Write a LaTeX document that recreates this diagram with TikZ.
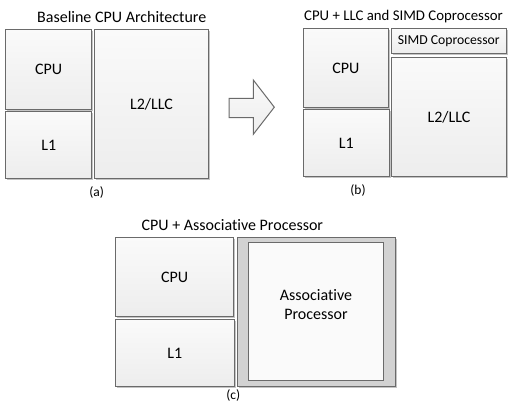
\documentclass[tikz,border=0pt]{standalone}
\usepackage{fontspec}
\setmainfont{Carlito}[Ligatures=NoCommon]
\usetikzlibrary{shadows}
\definecolor{edge}{HTML}{6A6A6A}
\definecolor{shadowc}{HTML}{C4C4C4}
\definecolor{topc}{HTML}{FAFAFA}
\definecolor{botc}{HTML}{EDEDED}
\definecolor{apgray}{HTML}{D2D2D2}
\tikzset{
  blk/.style={draw=edge, line width=1.1pt, top color=topc, bottom color=botc,
    anchor=north west, inner sep=0pt, font=\fontsize{16}{19}\selectfont,
    drop shadow={shadow xshift=1.3pt, shadow yshift=-1.3pt, fill=shadowc, opacity=1}},
  ttl/.style={font=\fontsize{16}{19}\selectfont, inner sep=0pt},
  sublabel/.style={font=\fontsize{13.5}{15}\selectfont, inner sep=0pt},
  bigarrow/.style={draw=edge, line width=1pt, top color=topc, bottom color=botc}
}
\begin{document}
\begin{tikzpicture}[x=1pt,y=-1pt]
\useasboundingbox[fill=white] (0,0) rectangle (508,406);
% panel (a)
\node[ttl] (ta) at (121.7,16.7) {Baseline CPU Architecture};
\node[blk, minimum width=85.4pt, minimum height=79.7pt] (cpuA) at (5.3,29.3) {CPU};
\node[blk, minimum width=86pt, minimum height=67pt] (l1A) at (5.3,111.3) {L1};
\node[blk, minimum width=114.6pt, minimum height=149pt] (l2A) at (93.7,29.3) {L2/LLC};
\node[sublabel] (capa) at (96.7,192.7) {(a)};
% arrow
\draw[bigarrow] (229,98.3) -- (253.3,98.3) -- (253.3,80) -- (274.3,107.2) -- (253.3,134.3) -- (253.3,117.7) -- (229,117.7) -- cycle;
% panel (b)
\node[ttl, font=\fontsize{14.8}{18}\selectfont] (tb) at (403.5,16.7) {CPU + LLC and SIMD Coprocessor};
\node[blk, minimum width=85.3pt, minimum height=79pt] (cpuB) at (302.7,28.3) {CPU};
\node[blk, minimum width=86pt, minimum height=66.7pt] (l1B) at (302.7,109.3) {L1};
\node[blk, minimum width=115pt, minimum height=24.4pt, font=\fontsize{13.7}{16}\selectfont] (simd) at (390.7,28.3) {SIMD Coprocessor};
\node[blk, minimum width=114.4pt, minimum height=119.3pt] (l2B) at (391.3,56.7) {L2/LLC};
\node[sublabel] (capb) at (358,190) {(b)};
% panel (c)
\node[ttl] (tc) at (232.3,224.7) {CPU + Associative Processor};
\node[blk, minimum width=118.3pt, minimum height=79pt] (cpuC) at (115,237.3) {CPU};
\node[blk, minimum width=118.7pt, minimum height=66.7pt] (l1C) at (115,319) {L1};
\node[blk, minimum width=157.7pt, minimum height=148.4pt, top color=apgray, bottom color=apgray] (apo) at (237.3,237.3) {};
\node[draw=edge, line width=1.1pt, fill=topc, anchor=north west, inner sep=0pt, minimum width=135.6pt, minimum height=138pt] (api) at (247.7,242.3) {};
\node[font=\fontsize{16}{19}\selectfont, align=center, inner sep=0pt] (apt) at (316,305) {Associative\\Processor};
\node[sublabel] (capc) at (233.3,395.7) {(c)};
\end{tikzpicture}
\end{document}
